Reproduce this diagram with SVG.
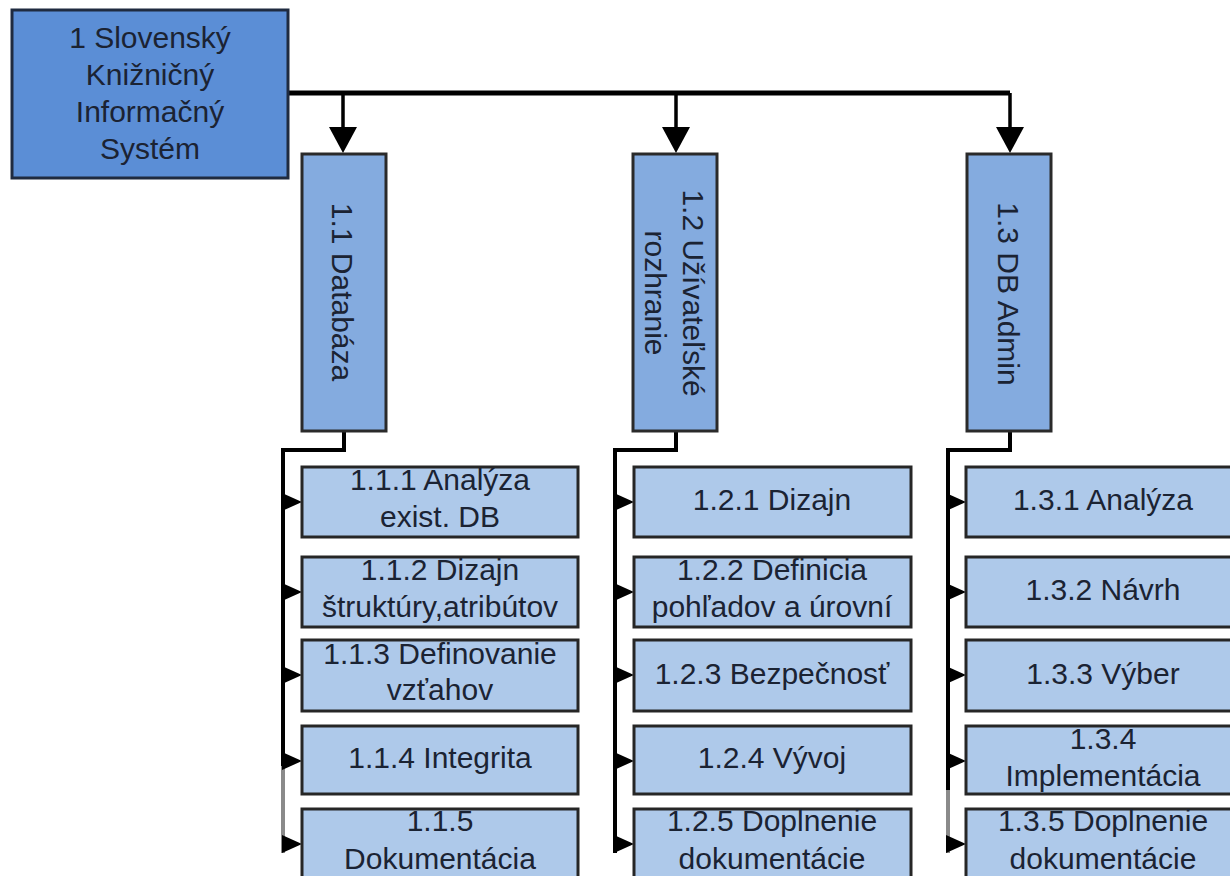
<svg xmlns="http://www.w3.org/2000/svg" width="1230" height="876" viewBox="0 0 1230 876">
<style>
text{font-family:"Liberation Sans",Arial,sans-serif;font-size:30px;fill:#1b2333;text-anchor:middle}
.root{fill:#5b8ed6;stroke:#1f2b40;stroke-width:3}
.l2{fill:#84abdf;stroke:#2a2a2a;stroke-width:3}
.l3{fill:#aec9ea;stroke:#262626;stroke-width:3}
.ln{fill:none;stroke:#000;stroke-width:4}
.lg{fill:none;stroke:#8a8a8a;stroke-width:4}
.ah{fill:#000}
</style>
<defs>
<path id="down" d="M-14,-26 L14,-26 L0,0 Z"/>
<path id="right" d="M-20,-9 L-20,9 L0,0 Z"/>
</defs>
<rect width="1230" height="876" fill="#fff"/>
<g id="connectors">
<path class="ln" d="M288,93 H1010" style="stroke-width:5"/>
<path class="ln" d="M343,93 V130 M676,93 V130 M1010,93 V130" style="stroke-width:3.5"/>
<use href="#down" class="ah" x="343" y="153"/>
<use href="#down" class="ah" x="676" y="153"/>
<use href="#down" class="ah" x="1010" y="153"/>
<path class="ln" d="M344,431 V450 H283 V766"/>
<path class="lg" d="M283,766 V853"/>
<path class="ln" d="M676,431 V450 H615 V853"/>
<path class="ln" d="M1010,431 V450 H948 V790"/>
<path class="lg" d="M948,790 V853"/>
<use href="#right" class="ah" x="302" y="502"/>
<use href="#right" class="ah" x="302" y="592"/>
<use href="#right" class="ah" x="302" y="675"/>
<use href="#right" class="ah" x="302" y="761"/>
<use href="#right" class="ah" x="302" y="844"/>
<use href="#right" class="ah" x="634" y="502"/>
<use href="#right" class="ah" x="634" y="592"/>
<use href="#right" class="ah" x="634" y="675"/>
<use href="#right" class="ah" x="634" y="761"/>
<use href="#right" class="ah" x="634" y="844"/>
<use href="#right" class="ah" x="966" y="502"/>
<use href="#right" class="ah" x="966" y="592"/>
<use href="#right" class="ah" x="966" y="675"/>
<use href="#right" class="ah" x="966" y="761"/>
<use href="#right" class="ah" x="966" y="844"/>
</g>
<g id="n1">
<rect class="root" x="12" y="10" width="276" height="168"/>
<text x="150" y="48">1 Slovenský</text>
<text x="150" y="85">Knižničný</text>
<text x="150" y="122">Informačný</text>
<text x="150" y="159">Systém</text>
</g>
<g id="n1_1">
<rect class="l2" x="302" y="154" width="84" height="277"/>
<text transform="translate(343,292) rotate(90)" x="0" y="11">1.1 Databáza</text>
</g>
<g id="n1_2">
<rect class="l2" x="633" y="154" width="84" height="277"/>
<text transform="translate(676,293) rotate(90)" x="0" y="-7">1.2 Užívateľské</text>
<text transform="translate(676,293) rotate(90)" x="0" y="31">rozhranie</text>
</g>
<g id="n1_3">
<rect class="l2" x="967" y="154" width="84" height="277"/>
<text transform="translate(1010,294) rotate(90)" x="0" y="12">1.3 DB Admin</text>
</g>
<g id="n1_1_1"><rect class="l3" x="302" y="467" width="276" height="70"/><text x="440" y="490">1.1.1 Analýza</text><text x="440" y="527">exist. DB</text></g>
<g id="n1_1_2"><rect class="l3" x="302" y="557" width="276" height="70"/><text x="440" y="580">1.1.2 Dizajn</text><text x="440" y="617">štruktúry,atribútov</text></g>
<g id="n1_1_3"><rect class="l3" x="302" y="640" width="276" height="71"/><text x="440" y="664">1.1.3 Definovanie</text><text x="440" y="700">vzťahov</text></g>
<g id="n1_1_4"><rect class="l3" x="302" y="726" width="276" height="68"/><text x="440" y="768">1.1.4 Integrita</text></g>
<g id="n1_1_5"><rect class="l3" x="302" y="809" width="276" height="80"/><text x="440" y="831">1.1.5</text><text x="440" y="869">Dokumentácia</text></g>
<g id="n1_2_1"><rect class="l3" x="634" y="467" width="277" height="70"/><text x="772" y="510">1.2.1 Dizajn</text></g>
<g id="n1_2_2"><rect class="l3" x="634" y="557" width="277" height="70"/><text x="772" y="580">1.2.2 Definicia</text><text x="772" y="617">pohľadov a úrovní</text></g>
<g id="n1_2_3"><rect class="l3" x="634" y="640" width="277" height="71"/><text x="772" y="684">1.2.3 Bezpečnosť</text></g>
<g id="n1_2_4"><rect class="l3" x="634" y="726" width="277" height="68"/><text x="772" y="768">1.2.4 Vývoj</text></g>
<g id="n1_2_5"><rect class="l3" x="634" y="809" width="277" height="80"/><text x="772" y="831">1.2.5 Doplnenie</text><text x="772" y="869">dokumentácie</text></g>
<g id="n1_3_1"><rect class="l3" x="966" y="467" width="276" height="70"/><text x="1103" y="510">1.3.1 Analýza</text></g>
<g id="n1_3_2"><rect class="l3" x="966" y="557" width="276" height="70"/><text x="1103" y="600">1.3.2 Návrh</text></g>
<g id="n1_3_3"><rect class="l3" x="966" y="640" width="276" height="71"/><text x="1103" y="684">1.3.3 Výber</text></g>
<g id="n1_3_4"><rect class="l3" x="966" y="726" width="276" height="68"/><text x="1103" y="749">1.3.4</text><text x="1103" y="786">Implementácia</text></g>
<g id="n1_3_5"><rect class="l3" x="966" y="809" width="276" height="80"/><text x="1103" y="831">1.3.5 Doplnenie</text><text x="1103" y="869">dokumentácie</text></g>
</svg>
